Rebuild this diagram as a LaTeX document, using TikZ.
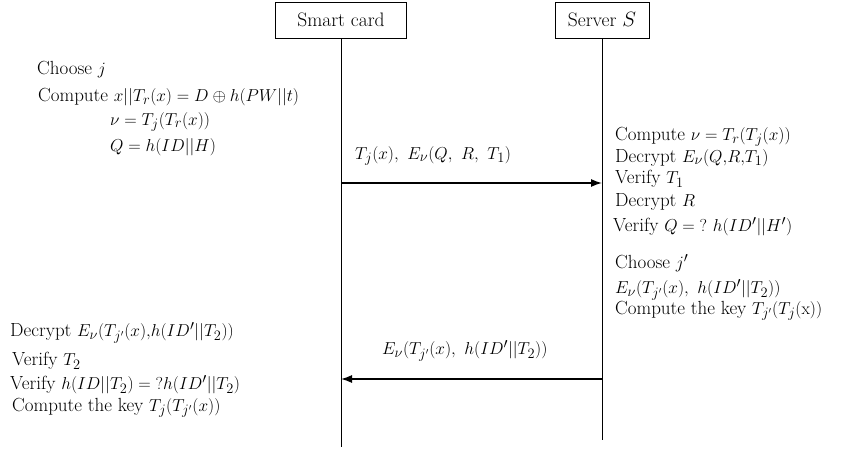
\documentclass[tikz,border=0pt]{standalone}
\usetikzlibrary{arrows.meta}
\begin{document}
\begin{tikzpicture}[x=1pt,y=-1pt,
  txt/.style={anchor=west,inner sep=0pt,font=\fontsize{19}{22}\selectfont},
  actor/.style={draw,line width=0.8pt,minimum height=36pt,inner sep=0pt,font=\fontsize{19.5}{22}\selectfont},
  life/.style={line width=0.8pt},
  msg/.style={line width=1.4pt,-{Latex[length=11pt,width=8pt]}}]
\useasboundingbox (0,0) rectangle (844,449);
\node[actor,minimum width=131pt] (sc) at (341,20) {Smart card};
\node[actor,minimum width=94pt] (sv) at (602,20) {Server $S$};
\coordinate (scend) at (341,447);
\coordinate (svend) at (602,440);
\draw[life] (sc.south) -- (scend);
\draw[life] (sv.south) -- (svend);
% left top
\node[txt] (l1) at (37,70) {Choose $j$};
\node[txt] (l2) at (38,97) {Compute $x||T_r(x) = D \oplus h(PW||t)$};
\node[txt] (l3) at (110,122) {$\nu = T_j(T_r(x))$};
\node[txt] (l4) at (110,147) {$Q = h(ID||H)$};
% message 1
\coordinate (m1a) at (341,183);
\coordinate (m1b) at (602,183);
\draw[msg] (m1a) -- (m1b);
\node[txt] (m1l) at (355,156) {$T_j(x),\ E_\nu(Q,\ R,\ T_1)$};
% right
\node[txt] (r1) at (615,137) {Compute $\nu = T_r(T_j(x))$};
\node[txt] (r2) at (615,158) {Decrypt $E_\nu(Q{,}R{,}T_1)$};
\node[txt] (r3) at (615,179) {Verify $T_1$};
\node[txt] (r4) at (615,202) {Decrypt $R$};
\node[txt] (r5) at (613,227) {Verify $Q = {?}\ h(ID'||H')$};
\node[txt] (r6) at (615,263) {Choose $j'$};
\node[txt] (r7) at (615,290) {$E_\nu(T_{j'}(x),\ h(ID'||T_2))$};
\node[txt] (r8) at (615,311) {Compute the key $T_{j'}(T_j(\mathrm{x}))$};
% message 2
\coordinate (m2a) at (602,379);
\coordinate (m2b) at (341,379);
\draw[msg] (m2a) -- (m2b);
\node[txt] (m2l) at (382,351) {$E_\nu(T_{j'}(x),\ h(ID'||T_2))$};
% bottom left
\node[txt] (b1) at (10,333) {Decrypt $E_\nu(T_{j'}(x){,}h(ID'||T_2))$};
\node[txt] (b2) at (12,361) {Verify $T_2$};
\node[txt] (b3) at (10,385) {Verify $h(ID||T_2) = {?}h(ID'||T_2)$};
\node[txt] (b4) at (12,408) {Compute the key $T_j(T_{j'}(x))$};
\end{tikzpicture}
\end{document}
